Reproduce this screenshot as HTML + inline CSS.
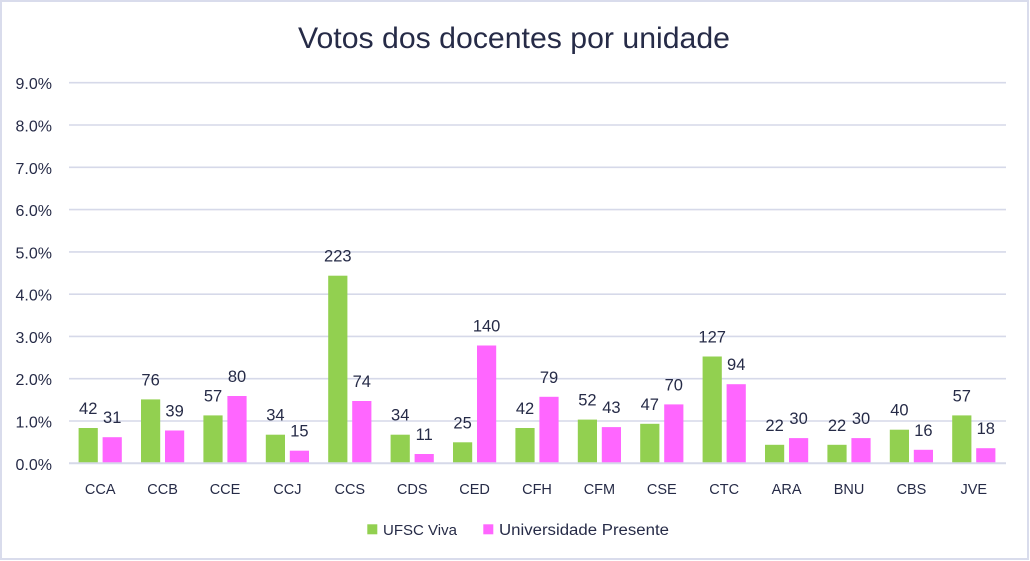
<!DOCTYPE html>
<html><head><meta charset="utf-8"><style>
html,body{margin:0;padding:0;background:#fff;}
svg{display:block;font-family:"Liberation Sans",Arial,sans-serif;}
</style></head><body>
<svg width="1030" height="561" viewBox="0 0 1030 561" xmlns="http://www.w3.org/2000/svg">
<rect x="0" y="0" width="1030" height="561" fill="#fff"/>
<rect x="1" y="1" width="1027" height="558" fill="none" stroke="#d9dcec" stroke-width="2"/>
<text x="514" y="48" text-anchor="middle" font-size="30" fill="#262b47" textLength="432" lengthAdjust="spacingAndGlyphs">Votos dos docentes por unidade</text>
<g stroke="#d6d9e9" stroke-width="1.6">
<line x1="69" x2="1006" y1="82.7" y2="82.7"/>
<line x1="69" x2="1006" y1="125.0" y2="125.0"/>
<line x1="69" x2="1006" y1="167.3" y2="167.3"/>
<line x1="69" x2="1006" y1="209.6" y2="209.6"/>
<line x1="69" x2="1006" y1="251.9" y2="251.9"/>
<line x1="69" x2="1006" y1="294.2" y2="294.2"/>
<line x1="69" x2="1006" y1="336.4" y2="336.4"/>
<line x1="69" x2="1006" y1="378.7" y2="378.7"/>
<line x1="69" x2="1006" y1="421.0" y2="421.0"/>
</g>
<g fill="#262b47" font-size="16" text-anchor="end">
<text x="52" y="89.2">9.0%</text>
<text x="52" y="131.5">8.0%</text>
<text x="52" y="173.8">7.0%</text>
<text x="52" y="216.1">6.0%</text>
<text x="52" y="258.4">5.0%</text>
<text x="52" y="300.7">4.0%</text>
<text x="52" y="342.9">3.0%</text>
<text x="52" y="385.2">2.0%</text>
<text x="52" y="427.5">1.0%</text>
<text x="52" y="469.8">0.0%</text>
</g>
<g fill="#92d050">
<rect x="78.6" y="428.0" width="19.2" height="35.3"/>
<rect x="141.0" y="399.4" width="19.2" height="63.9"/>
<rect x="203.4" y="415.4" width="19.2" height="47.9"/>
<rect x="265.8" y="434.7" width="19.2" height="28.6"/>
<rect x="328.2" y="275.7" width="19.2" height="187.6"/>
<rect x="390.6" y="434.7" width="19.2" height="28.6"/>
<rect x="453.0" y="442.3" width="19.2" height="21.0"/>
<rect x="515.4" y="428.0" width="19.2" height="35.3"/>
<rect x="577.8" y="419.6" width="19.2" height="43.7"/>
<rect x="640.2" y="423.8" width="19.2" height="39.5"/>
<rect x="702.6" y="356.5" width="19.2" height="106.8"/>
<rect x="765.0" y="444.8" width="19.2" height="18.5"/>
<rect x="827.4" y="444.8" width="19.2" height="18.5"/>
<rect x="889.8" y="429.7" width="19.2" height="33.6"/>
<rect x="952.2" y="415.4" width="19.2" height="47.9"/>
</g>
<g fill="#ff66ff">
<rect x="102.6" y="437.2" width="19.2" height="26.1"/>
<rect x="165.0" y="430.5" width="19.2" height="32.8"/>
<rect x="227.4" y="396.0" width="19.2" height="67.3"/>
<rect x="289.8" y="450.7" width="19.2" height="12.6"/>
<rect x="352.2" y="401.0" width="19.2" height="62.3"/>
<rect x="414.6" y="454.0" width="19.2" height="9.3"/>
<rect x="477.0" y="345.5" width="19.2" height="117.8"/>
<rect x="539.4" y="396.8" width="19.2" height="66.5"/>
<rect x="601.8" y="427.1" width="19.2" height="36.2"/>
<rect x="664.2" y="404.4" width="19.2" height="58.9"/>
<rect x="726.6" y="384.2" width="19.2" height="79.1"/>
<rect x="789.0" y="438.1" width="19.2" height="25.2"/>
<rect x="851.4" y="438.1" width="19.2" height="25.2"/>
<rect x="913.8" y="449.8" width="19.2" height="13.5"/>
<rect x="976.2" y="448.2" width="19.2" height="15.1"/>
</g>
<line x1="69" x2="1006" y1="463.3" y2="463.3" stroke="#d6d9e9" stroke-width="2"/>
<g fill="#262b47" font-size="16.5" text-anchor="middle">
<text x="88.2" y="414.0">42</text><text x="112.2" y="423.2">31</text>
<text x="150.6" y="385.4">76</text><text x="174.6" y="416.5">39</text>
<text x="213.0" y="401.4">57</text><text x="237.0" y="382.0">80</text>
<text x="275.4" y="420.7">34</text><text x="299.4" y="436.7">15</text>
<text x="337.8" y="261.7">223</text><text x="361.8" y="387.0">74</text>
<text x="400.2" y="420.7">34</text><text x="424.2" y="440.0">11</text>
<text x="462.6" y="428.3">25</text><text x="486.6" y="331.5">140</text>
<text x="525.0" y="414.0">42</text><text x="549.0" y="382.8">79</text>
<text x="587.4" y="405.5">52</text><text x="611.4" y="413.1">43</text>
<text x="649.8" y="409.8">47</text><text x="673.8" y="390.4">70</text>
<text x="712.2" y="342.5">127</text><text x="736.2" y="370.2">94</text>
<text x="774.6" y="430.8">22</text><text x="798.6" y="424.1">30</text>
<text x="837.0" y="430.8">22</text><text x="861.0" y="424.1">30</text>
<text x="899.4" y="415.7">40</text><text x="923.4" y="435.8">16</text>
<text x="961.8" y="401.4">57</text><text x="985.8" y="434.2">18</text>
</g>
<g fill="#262b47" font-size="14.5" text-anchor="middle">
<text x="100.2" y="494">CCA</text>
<text x="162.6" y="494">CCB</text>
<text x="225.0" y="494">CCE</text>
<text x="287.4" y="494">CCJ</text>
<text x="349.8" y="494">CCS</text>
<text x="412.2" y="494">CDS</text>
<text x="474.6" y="494">CED</text>
<text x="537.0" y="494">CFH</text>
<text x="599.4" y="494">CFM</text>
<text x="661.8" y="494">CSE</text>
<text x="724.2" y="494">CTC</text>
<text x="786.6" y="494">ARA</text>
<text x="849.0" y="494">BNU</text>
<text x="911.4" y="494">CBS</text>
<text x="973.8" y="494">JVE</text>
</g>
<rect x="367.3" y="524.3" width="10" height="10" fill="#92d050"/>
<text x="383" y="535" font-size="15" fill="#262b47" textLength="74" lengthAdjust="spacingAndGlyphs">UFSC Viva</text>
<rect x="483.3" y="524.3" width="10" height="10" fill="#ff66ff"/>
<text x="499" y="535" font-size="15.5" fill="#262b47" textLength="170" lengthAdjust="spacingAndGlyphs">Universidade Presente</text>
</svg>
</body></html>
